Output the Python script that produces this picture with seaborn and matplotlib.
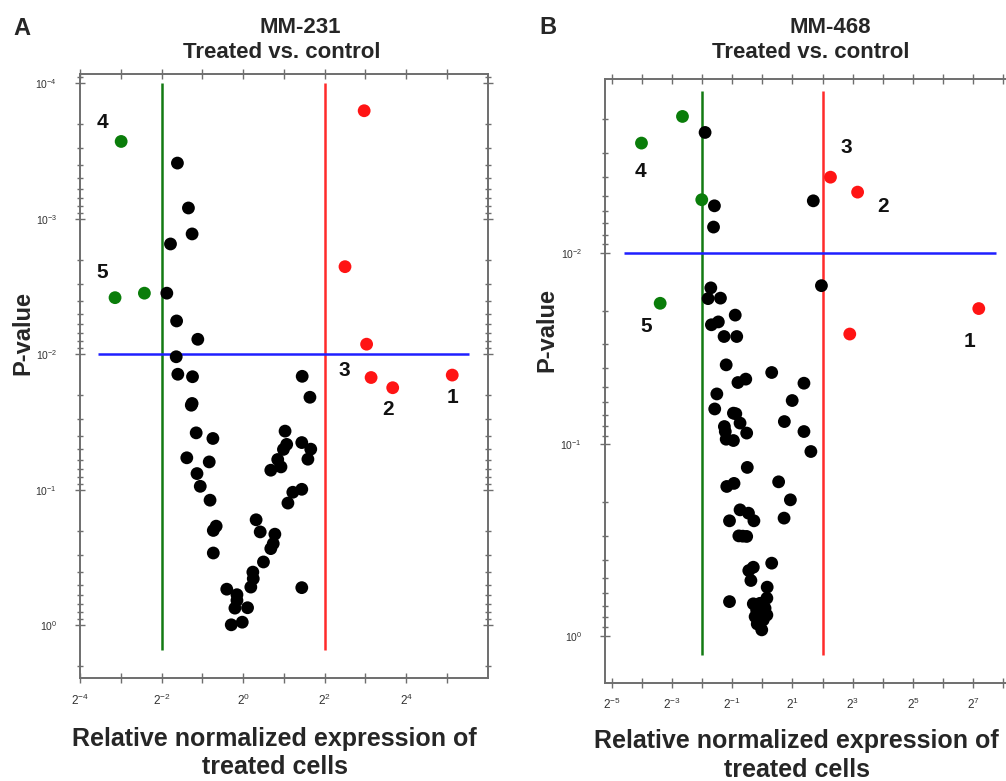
import numpy as np
import pandas as pd
import matplotlib
matplotlib.use("Agg")
import matplotlib.pyplot as plt
import seaborn as sns

# ---- data (log2 fold change, p-value) ----
# MM-231
mm231_black_log2fc = [-1.61, -1.34, -1.25, -1.78, -1.87, -1.63, -1.11, -1.64, -1.60, -1.24,
                      1.45, 1.64, -1.25, -1.27, -1.15, -0.74, -1.38, -0.83, -1.13, -1.05,
                      -0.81, -0.66, -0.73, -0.73, -0.40, -0.15, -0.15, -0.20, 0.11, -0.29,
                      -0.02, 0.19, 0.25, 0.24, 0.50, 0.68, 0.74, 0.78, 0.42, 0.32,
                      0.68, 0.85, 0.93, 1.03, 1.07, 0.99, 1.44, 1.66, 1.59, 1.44,
                      1.22, 1.10, 1.44]
mm231_black_p = [3.87e-4, 8.3e-4, 1.29e-3, 1.53e-3, 3.53e-3, 5.66e-3, 7.73e-3, 0.0104, 0.0140, 0.0146,
                 0.0145, 0.0207, 0.0230, 0.0237, 0.0379, 0.0417, 0.0579, 0.0621, 0.0757, 0.0940,
                 0.119, 0.185, 0.199, 0.292, 0.540, 0.593, 0.653, 0.745, 0.740, 0.989,
                 0.946, 0.521, 0.452, 0.404, 0.340, 0.271, 0.249, 0.212, 0.204, 0.166,
                 0.0715, 0.0596, 0.0676, 0.0368, 0.0461, 0.0502, 0.0447, 0.0500, 0.0593, 0.0989,
                 0.104, 0.125, 0.526]
mm231_down_log2fc = [-2.99, -3.14, -2.42]
mm231_down_p = [2.68e-4, 3.81e-3, 3.53e-3]
mm231_up_log2fc = [2.97, 2.50, 3.03, 3.14, 3.67, 5.13]
mm231_up_p = [1.59e-4, 2.25e-3, 8.4e-3, 0.0148, 0.0176, 0.0142]

# MM-468
mm468_black_log2fc = [-1.90, -1.59, -1.62, 1.69, 1.96, -1.71, -1.80, -1.39, -0.90, -1.69,
                      -1.46, -1.27, -0.85, -1.20, 0.31, -0.81, -0.55, 1.38, -1.51, 0.99,
                      -1.58, -0.96, -0.88, 0.73, -0.74, -1.26, -0.52, -1.23, -1.20, -0.96,
                      1.38, 1.61, -0.50, -1.18, -0.94, 0.54, 0.93, -0.74, -0.46, -0.28,
                      -1.09, 0.72, -0.78, -0.52, -0.65, 0.31, -0.30, -0.45, -0.38, 0.16,
                      -1.09, -0.30, -0.08, 0.15, -0.19, 0.09, -0.24, 0.15, -0.08, -0.02,
                      -0.17, 0.03, 0.05, -0.12]
mm468_black_p = [2.34e-3, 5.66e-3, 7.31e-3, 5.33e-3, 0.0148, 0.0152, 0.0173, 0.0172, 0.0211, 0.0237,
                 0.0229, 0.0273, 0.0273, 0.0384, 0.0421, 0.0475, 0.0456, 0.0479, 0.0545, 0.0590,
                 0.0653, 0.0687, 0.0692, 0.0760, 0.0774, 0.0807, 0.0873, 0.0857, 0.0940, 0.0955,
                 0.0857, 0.109, 0.132, 0.166, 0.160, 0.157, 0.195, 0.220, 0.229, 0.251,
                 0.251, 0.243, 0.301, 0.303, 0.302, 0.418, 0.439, 0.457, 0.515, 0.558,
                 0.664, 0.682, 0.678, 0.637, 0.735, 0.719, 0.796, 0.780, 0.845, 0.933,
                 0.869, 0.828, 0.759, 0.767]
mm468_down_log2fc = [-2.65, -4.01, -2.01, -3.39]
mm468_down_p = [1.93e-3, 2.66e-3, 5.26e-3, 0.0183]
mm468_up_log2fc = [2.26, 3.16, 7.18, 2.90]
mm468_up_p = [4.01e-3, 4.80e-3, 0.0195, 0.0265]

# thresholds
fc_low, fc_high, p_cut = 0.25, 4.0, 0.01

# numbered genes: (label, group, index in that group)
mm231_labels = [("4", "down", 0), ("5", "down", 1), ("3", "up", 3), ("2", "up", 4), ("1", "up", 5)]
mm468_labels = [("4", "down", 1), ("5", "down", 3), ("3", "up", 0), ("2", "up", 1), ("1", "up", 2)]
mm231_offsets = [(-19, 19), (-13, 25), (-27, 7), (-5, -22), (0, -22)]
mm468_offsets = [(-1, -28), (-14, -23), (16, 30), (25, -14), (-9, -33)]

sns.set_style("ticks")
plt.rcParams["font.family"] = ["Liberation Sans", "DejaVu Sans"]
plt.rcParams["mathtext.default"] = "regular"

palette = {"black": "black", "down": "#0a7d0a", "up": "#ff1414"}
frame = "#6e6e6e"


def make_df(bx, bp, dx, dp, ux, up):
    return pd.DataFrame({
        "fc": np.power(2.0, np.concatenate([bx, dx, ux])),
        "p": np.concatenate([bp, dp, up]),
        "group": ["black"] * len(bx) + ["down"] * len(dx) + ["up"] * len(ux),
    })


def draw_panel(ax, df, xlim, ylim, xmajor, xlabeled, ymajor, vspan, hspan, labels, offsets,
               right_ticks=True):
    ax.set_xscale("log", base=2)
    ax.set_yscale("log")
    ax.vlines(fc_low, vspan[0], vspan[1], color="#137a13", lw=1.8, zorder=2)
    ax.vlines(fc_high, vspan[0], vspan[1], color="#ff2a2a", lw=1.8, zorder=2)
    ax.hlines(p_cut, hspan[0], hspan[1], color="#1f1fff", lw=1.8, zorder=2)
    sns.scatterplot(data=df, x="fc", y="p", hue="group", palette=palette, s=85,
                    edgecolor="none", linewidth=0, legend=False, ax=ax, zorder=3)
    ax.set_xlim(*xlim)
    ax.set_ylim(*ylim)
    ax.set_xticks([2.0 ** k for k in xmajor])
    ax.set_xticklabels([f"$2^{{{k}}}$" if k in xlabeled else "" for k in xmajor])
    ax.xaxis.set_minor_locator(matplotlib.ticker.NullLocator())
    ax.set_yticks([10.0 ** k for k in ymajor])
    ax.set_yticklabels([f"$10^{{{k}}}$" for k in ymajor])
    ax.yaxis.set_minor_locator(matplotlib.ticker.LogLocator(base=10, subs=np.arange(2, 10)))
    ax.yaxis.set_minor_formatter(matplotlib.ticker.NullFormatter())
    ax.tick_params(axis="both", which="both", direction="inout", color=frame,
                   labelcolor="#333333", top=True, right=right_ticks, width=1)
    ax.tick_params(axis="both", which="major", length=7)
    ax.tick_params(axis="both", which="minor", length=4)
    ax.tick_params(axis="x", labelsize=8.5, pad=7)
    ax.tick_params(axis="y", labelsize=7.5, pad=13)
    for sp in ax.spines.values():
        sp.set_color(frame)
        sp.set_linewidth(1.4)
    ax.spines["right"].set_visible(right_ticks)
    ax.set_xlabel("")
    ax.set_ylabel("")
    for (lab, grp, i), (dx, dy) in zip(labels, offsets):
        row = df[df["group"] == grp].iloc[i]
        ax.annotate(lab, xy=(row["fc"], row["p"]), xytext=(dx, dy), textcoords="offset pixels",
                    ha="center", va="center", fontsize=15, fontweight="bold", color="#111111")


fig = plt.figure(figsize=(10.06, 7.81), dpi=100)
axA = fig.add_axes([0.0795, 0.1315, 0.4053, 0.7738])
# panel B runs off the right edge of the figure, as in the original
axB = fig.add_axes([0.6014, 0.1259, 0.4036, 0.7729])

df231 = make_df(mm231_black_log2fc, mm231_black_p, mm231_down_log2fc, mm231_down_p,
                mm231_up_log2fc, mm231_up_p)
df468 = make_df(mm468_black_log2fc, mm468_black_p, mm468_down_log2fc, mm468_down_p,
                mm468_up_log2fc, mm468_up_p)

draw_panel(axA, df231, (2.0 ** -4, 2.0 ** 6), (10 ** 0.39, 10 ** -4.07),
           range(-4, 6), [-4, -2, 0, 2, 4], [-4, -3, -2, -1, 0],
           (10 ** 0.18, 1e-4), (2.0 ** -3.55, 2.0 ** 5.55), mm231_labels, mm231_offsets)
draw_panel(axB, df468, (2.0 ** -5.22, 2.0 ** 8.25), (10 ** 0.246, 10 ** -2.91),
           range(-5, 9), [-5, -3, -1, 1, 3, 5, 7], [-2, -1, 0],
           (10 ** 0.10, 10 ** -2.85), (2.0 ** -4.58, 2.0 ** 7.75), mm468_labels, mm468_offsets,
           right_ticks=False)

xlab = "Relative normalized expression of\ntreated cells"
for xc, yc in [(0.273, 0.036), (0.792, 0.033)]:
    fig.text(xc, yc, xlab, ha="center", va="center", fontsize=18, fontweight="bold",
             linespacing=1.25)
fig.text(0.023, 0.574, "P-value", rotation=90, ha="center", va="center", fontsize=17, fontweight="bold")
fig.text(0.544, 0.577, "P-value", rotation=90, ha="center", va="center", fontsize=17, fontweight="bold")

fig.text(0.022, 0.963, "A", ha="center", va="center", fontsize=17, fontweight="bold")
fig.text(0.545, 0.965, "B", ha="center", va="center", fontsize=17, fontweight="bold")
fig.text(0.298, 0.965, "MM-231", ha="center", va="center", fontsize=16, fontweight="bold")
fig.text(0.280, 0.933, "Treated vs. control", ha="center", va="center", fontsize=16, fontweight="bold")
fig.text(0.825, 0.965, "MM-468", ha="center", va="center", fontsize=16, fontweight="bold")
fig.text(0.806, 0.933, "Treated vs. control", ha="center", va="center", fontsize=16, fontweight="bold")

fig.savefig("out.png", dpi=100)
